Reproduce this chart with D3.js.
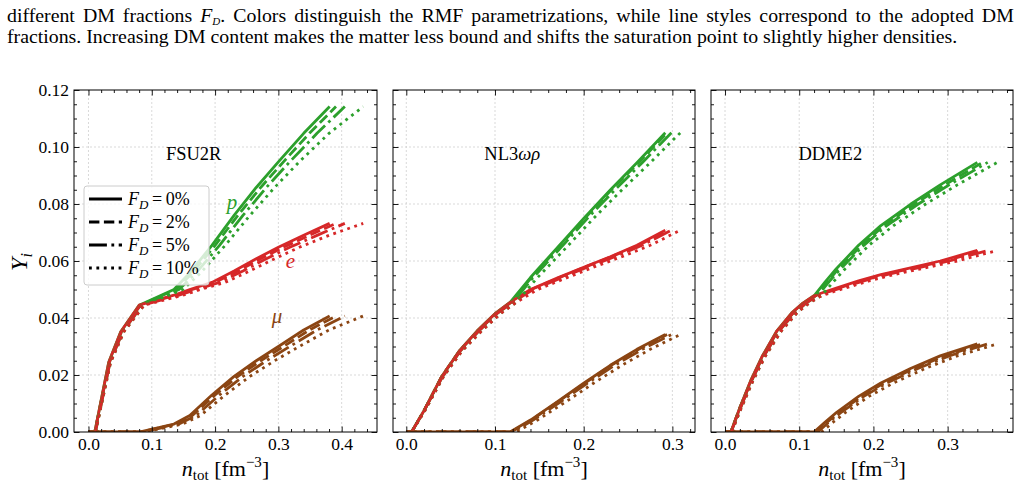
<!DOCTYPE html>
<meta charset="utf-8">
<style>
body { margin: 0; background: #fff; }
svg { font-family: "Liberation Serif", "DejaVu Serif", serif; }
.grid line { stroke: #cfcfcf; stroke-width: 0.8; stroke-dasharray: 2,2; }
.ax path { display: none; }
.ax line { stroke: #000; stroke-width: 0.9; }
.ax text { font-family: "Liberation Serif", serif; font-size: 17.5px; fill: #000; }
</style>
<svg width="1027" height="486"></svg>
<script src="https://d3js.org/d3.v7.min.js"></script>
<script>
// DM fractions (percent) and line styles
var fdValues = [0, 2, 5, 10];
var fdDash = ['none', '10.4,4.5', '17.9,4.5,2.8,4.5', '2.8,4.6'];

// FSU2R : n_tot grids for each F_D, fractions shared
var fsu_n0  = [0.0, 0.010, 0.032, 0.051, 0.080, 0.135, 0.160, 0.195, 0.230, 0.265, 0.300, 0.340, 0.381];
var fsu_n2  = [0.0, 0.010, 0.033, 0.052, 0.082, 0.138, 0.164, 0.200, 0.236, 0.272, 0.308, 0.349, 0.391];
var fsu_n5  = [0.0, 0.011, 0.034, 0.054, 0.085, 0.143, 0.170, 0.207, 0.244, 0.281, 0.318, 0.361, 0.405];
var fsu_n10 = [0.0, 0.011, 0.035, 0.056, 0.088, 0.149, 0.177, 0.216, 0.255, 0.294, 0.333, 0.380, 0.434];
var fsu_p   = [0, 0, 0.0245, 0.0352, 0.0445, 0.0500, 0.0558, 0.0655, 0.0760, 0.0858, 0.0948, 0.1048, 0.1142];
var fsu_e   = [0, 0, 0.0245, 0.0352, 0.0445, 0.0480, 0.0500, 0.0525, 0.0565, 0.0608, 0.0648, 0.0690, 0.0732];
var fsu_mu  = [0, 0, 0, 0, 0, 0.0028, 0.0058, 0.0130, 0.0195, 0.0250, 0.0300, 0.0358, 0.0407];

// NL3wr
var nl3_n0  = [0.0, 0.006, 0.020, 0.040, 0.060, 0.080, 0.100, 0.117, 0.140, 0.170, 0.200, 0.230, 0.260, 0.292];
var nl3_n2  = [0.0, 0.006, 0.020, 0.040, 0.060, 0.081, 0.101, 0.118, 0.141, 0.171, 0.201, 0.231, 0.262, 0.294];
var nl3_n5  = [0.0, 0.006, 0.020, 0.041, 0.061, 0.082, 0.102, 0.120, 0.143, 0.174, 0.204, 0.235, 0.266, 0.299];
var nl3_n10 = [0.0, 0.006, 0.021, 0.042, 0.063, 0.085, 0.106, 0.124, 0.148, 0.180, 0.211, 0.243, 0.275, 0.309];
var nl3_p   = [0, 0, 0.0075, 0.0195, 0.0285, 0.0355, 0.0415, 0.0455, 0.0542, 0.0646, 0.0749, 0.0849, 0.0945, 0.1050];
var nl3_e   = [0, 0, 0.0075, 0.0195, 0.0285, 0.0355, 0.0415, 0.0455, 0.0500, 0.0540, 0.0578, 0.0615, 0.0655, 0.0708];
var nl3_mu  = [0, 0, 0, 0, 0, 0, 0, 0, 0.0042, 0.0106, 0.0171, 0.0234, 0.0290, 0.0342];

// DDME2
var dd_n0  = [0.0, 0.008, 0.020, 0.035, 0.050, 0.070, 0.090, 0.105, 0.120, 0.135, 0.150, 0.180, 0.210, 0.250, 0.290, 0.340];
var dd_n2  = [0.0, 0.008, 0.020, 0.036, 0.051, 0.071, 0.092, 0.107, 0.122, 0.138, 0.153, 0.184, 0.214, 0.255, 0.296, 0.347];
var dd_n5  = [0.0, 0.008, 0.021, 0.036, 0.052, 0.073, 0.094, 0.109, 0.125, 0.140, 0.156, 0.187, 0.218, 0.260, 0.302, 0.354];
var dd_n10 = [0.0, 0.009, 0.022, 0.038, 0.054, 0.076, 0.097, 0.113, 0.130, 0.146, 0.162, 0.194, 0.227, 0.270, 0.313, 0.367];
var dd_p   = [0, 0, 0.0085, 0.0182, 0.0265, 0.0355, 0.0418, 0.0452, 0.0478, 0.0527, 0.0573, 0.0655, 0.0724, 0.0799, 0.0867, 0.0946];
var dd_e   = [0, 0, 0.0085, 0.0182, 0.0265, 0.0355, 0.0418, 0.0452, 0.0478, 0.0492, 0.0505, 0.0530, 0.0552, 0.0576, 0.0600, 0.0637];
var dd_mu  = [0, 0, 0, 0, 0, 0, 0, 0, 0, 0.0035, 0.0068, 0.0125, 0.0172, 0.0223, 0.0267, 0.0309];

var colors = { p: '#2ca02c', e: '#d62728', mu: '#8b4513' };

var panels = [
  { name: 'FSU2R', left: 74, right: 377, xdom: [-0.0229, 0.4558], xticks: [0, 0.1, 0.2, 0.3, 0.4],
    n: [fsu_n0, fsu_n2, fsu_n5, fsu_n10], p: fsu_p, e: fsu_e, mu: fsu_mu },
  { name: 'NL3', left: 393, right: 695, xdom: [-0.0150, 0.3255], xticks: [0, 0.1, 0.2, 0.3],
    n: [nl3_n0, nl3_n2, nl3_n5, nl3_n10], p: nl3_p, e: nl3_e, mu: nl3_mu },
  { name: 'DDME2', left: 711, right: 1013, xdom: [-0.0189, 0.3881], xticks: [0, 0.1, 0.2, 0.3],
    n: [dd_n0, dd_n2, dd_n5, dd_n10], p: dd_p, e: dd_e, mu: dd_mu }
];

var svg = d3.select('svg');
var plotTop = 90, plotBottom = 432;
var y = d3.scaleLinear().domain([0, 0.12]).range([plotBottom, plotTop]);
var yMajor = [0, 0.02, 0.04, 0.06, 0.08, 0.10, 0.12];
var yMinor = d3.range(0, 0.1201, 0.005).filter(function (v) { return Math.abs(v / 0.02 - Math.round(v / 0.02)) > 1e-6; });

panels.forEach(function (pn, pi) {
  var x = d3.scaleLinear().domain(pn.xdom).range([pn.left, pn.right]);
  var xMinor = d3.range(0, pn.xdom[1], 0.02).filter(function (v) { return Math.abs(v / 0.1 - Math.round(v / 0.1)) > 1e-6; });
  var g = svg.append('g');
  var clipId = 'clip' + pi;
  g.append('clipPath').attr('id', clipId).append('rect')
    .attr('x', pn.left).attr('y', plotTop).attr('width', pn.right - pn.left).attr('height', plotBottom - plotTop);

  // grid
  var grid = g.append('g').attr('class', 'grid');
  grid.selectAll('.gx').data(pn.xticks).enter().append('line')
    .attr('x1', function (d) { return x(d); }).attr('x2', function (d) { return x(d); })
    .attr('y1', plotTop).attr('y2', plotBottom);
  grid.selectAll('.gy').data(yMajor.slice(1, -1)).enter().append('line')
    .attr('x1', pn.left).attr('x2', pn.right)
    .attr('y1', function (d) { return y(d); }).attr('y2', function (d) { return y(d); });

  // curves
  var line = d3.line().x(function (d) { return x(d[0]); }).y(function (d) { return y(d[1]); });
  var cg = g.append('g').attr('clip-path', 'url(#' + clipId + ')');
  fdValues.forEach(function (fd, k) {
    ['p', 'e', 'mu'].forEach(function (sp) {
      cg.append('path')
        .datum(d3.zip(pn.n[k], pn[sp]))
        .attr('d', line)
        .attr('fill', 'none')
        .attr('stroke', colors[sp])
        .attr('stroke-width', 2.8)
        .attr('stroke-linejoin', 'round')
        .attr('stroke-dasharray', fdDash[k]);
    });
  });

  // axes (ticks inward on all sides)
  g.append('g').attr('class', 'ax').attr('transform', 'translate(0,' + plotBottom + ')')
    .call(d3.axisBottom(x).tickValues(pn.xticks).tickSizeInner(-5.5).tickSizeOuter(0).tickPadding(6).tickFormat(d3.format('.1f')));
  g.append('g').attr('class', 'ax').attr('transform', 'translate(0,' + plotBottom + ')')
    .call(d3.axisBottom(x).tickValues(xMinor).tickSizeInner(-3).tickSizeOuter(0).tickFormat(''));
  g.append('g').attr('class', 'ax').attr('transform', 'translate(0,' + plotTop + ')')
    .call(d3.axisTop(x).tickValues(pn.xticks).tickSizeInner(-5.5).tickSizeOuter(0).tickFormat(''));
  g.append('g').attr('class', 'ax').attr('transform', 'translate(0,' + plotTop + ')')
    .call(d3.axisTop(x).tickValues(xMinor).tickSizeInner(-3).tickSizeOuter(0).tickFormat(''));
  g.append('g').attr('class', 'ax').attr('transform', 'translate(' + pn.left + ',0)')
    .call(d3.axisLeft(y).tickValues(yMajor).tickSizeInner(-5.5).tickSizeOuter(0).tickPadding(5)
      .tickFormat(pi === 0 ? d3.format('.2f') : ''));
  g.append('g').attr('class', 'ax').attr('transform', 'translate(' + pn.left + ',0)')
    .call(d3.axisLeft(y).tickValues(yMinor).tickSizeInner(-3).tickSizeOuter(0).tickFormat(''));
  g.append('g').attr('class', 'ax').attr('transform', 'translate(' + pn.right + ',0)')
    .call(d3.axisRight(y).tickValues(yMajor).tickSizeInner(-5.5).tickSizeOuter(0).tickFormat(''));
  g.append('g').attr('class', 'ax').attr('transform', 'translate(' + pn.right + ',0)')
    .call(d3.axisRight(y).tickValues(yMinor).tickSizeInner(-3).tickSizeOuter(0).tickFormat(''));

  g.append('rect').attr('x', pn.left).attr('y', plotTop)
    .attr('width', pn.right - pn.left).attr('height', plotBottom - plotTop)
    .attr('fill', 'none').attr('stroke', '#000').attr('stroke-width', 1);

  // model name
  var cx = pn.left + (pn.right - pn.left) * 0.395;
  var title = g.append('text').attr('x', cx).attr('y', 160)
    .attr('text-anchor', 'middle').attr('font-size', 18.5);
  if (pn.name === 'NL3') {
    title.append('tspan').text('NL3');
    title.append('tspan').attr('font-style', 'italic').text('ωρ');
  } else {
    title.text(pn.name);
  }

  // x label
  var xl = g.append('text').attr('x', (pn.left + pn.right) / 2).attr('y', 476)
    .attr('text-anchor', 'middle').attr('font-size', 22);
  xl.append('tspan').attr('font-style', 'italic').text('n');
  xl.append('tspan').attr('font-size', 15).attr('dy', 4).text('tot');
  xl.append('tspan').attr('dy', -4).text(' [fm');
  xl.append('tspan').attr('font-size', 15).attr('dy', -9).text('−3');
  xl.append('tspan').attr('dy', 9).text(']');
});

// species labels in first panel
var lab = [['p', 232, 209, colors.p], ['e', 290.5, 268, colors.e], ['μ', 277, 323, colors.mu]];
lab.forEach(function (l) {
  svg.append('text').attr('x', l[1]).attr('y', l[2]).attr('text-anchor', 'middle')
    .attr('font-size', 21).attr('font-style', 'italic').attr('fill', l[3]).text(l[0]);
});

// y label
var yl = svg.append('text').attr('transform', 'translate(27,262) rotate(-90)')
  .attr('text-anchor', 'middle').attr('font-size', 24);
yl.append('tspan').attr('font-style', 'italic').text('Y');
yl.append('tspan').attr('font-style', 'italic').attr('font-size', 16).attr('dy', 5).text('i');

// legend
var lg = svg.append('g');
lg.append('rect').attr('x', 84).attr('y', 186).attr('width', 125).attr('height', 99)
  .attr('rx', 3).attr('fill', '#fff').attr('fill-opacity', 0.8)
  .attr('stroke', '#cccccc').attr('stroke-width', 1);
fdValues.forEach(function (fd, k) {
  var ly = 199 + k * 23;
  lg.append('line').attr('x1', 89).attr('x2', 122).attr('y1', ly).attr('y2', ly)
    .attr('stroke', '#000').attr('stroke-width', 2.8).attr('stroke-dasharray', fdDash[k]);
  var t = lg.append('text').attr('x', 128).attr('y', ly + 6).attr('font-size', 18);
  t.append('tspan').attr('font-style', 'italic').text('F');
  t.append('tspan').attr('font-style', 'italic').attr('font-size', 13).attr('dy', 4).text('D');
  t.append('tspan').attr('dy', -4).text('\u2009=\u2009' + fd + '%');
});

// caption above the figure
var cap1 = svg.append('text').attr('x', 7).attr('y', 22).attr('font-size', 16.5);
cap1.append('tspan').text('different DM fractions ');
cap1.append('tspan').attr('font-style', 'italic').text('F');
cap1.append('tspan').attr('font-style', 'italic').attr('font-size', 11).attr('dy', 2.5).text('D');
cap1.append('tspan').attr('dy', -2.5).text('. Colors distinguish the RMF parametrizations, while line styles correspond to the adopted DM');
var cap2 = svg.append('text').attr('x', 7).attr('y', 43).attr('font-size', 16.5)
  .text('fractions. Increasing DM content makes the matter less bound and shifts the saturation point to slightly higher densities.');
var w2 = cap2.node().getComputedTextLength();
var fs = 16.5 * 951 / w2;
cap2.attr('font-size', fs);
cap1.attr('font-size', fs);
var w1 = cap1.node().getComputedTextLength();
var nSpaces = 18;
cap1.attr('word-spacing', (1013 - w1) / nSpaces);
</script>
